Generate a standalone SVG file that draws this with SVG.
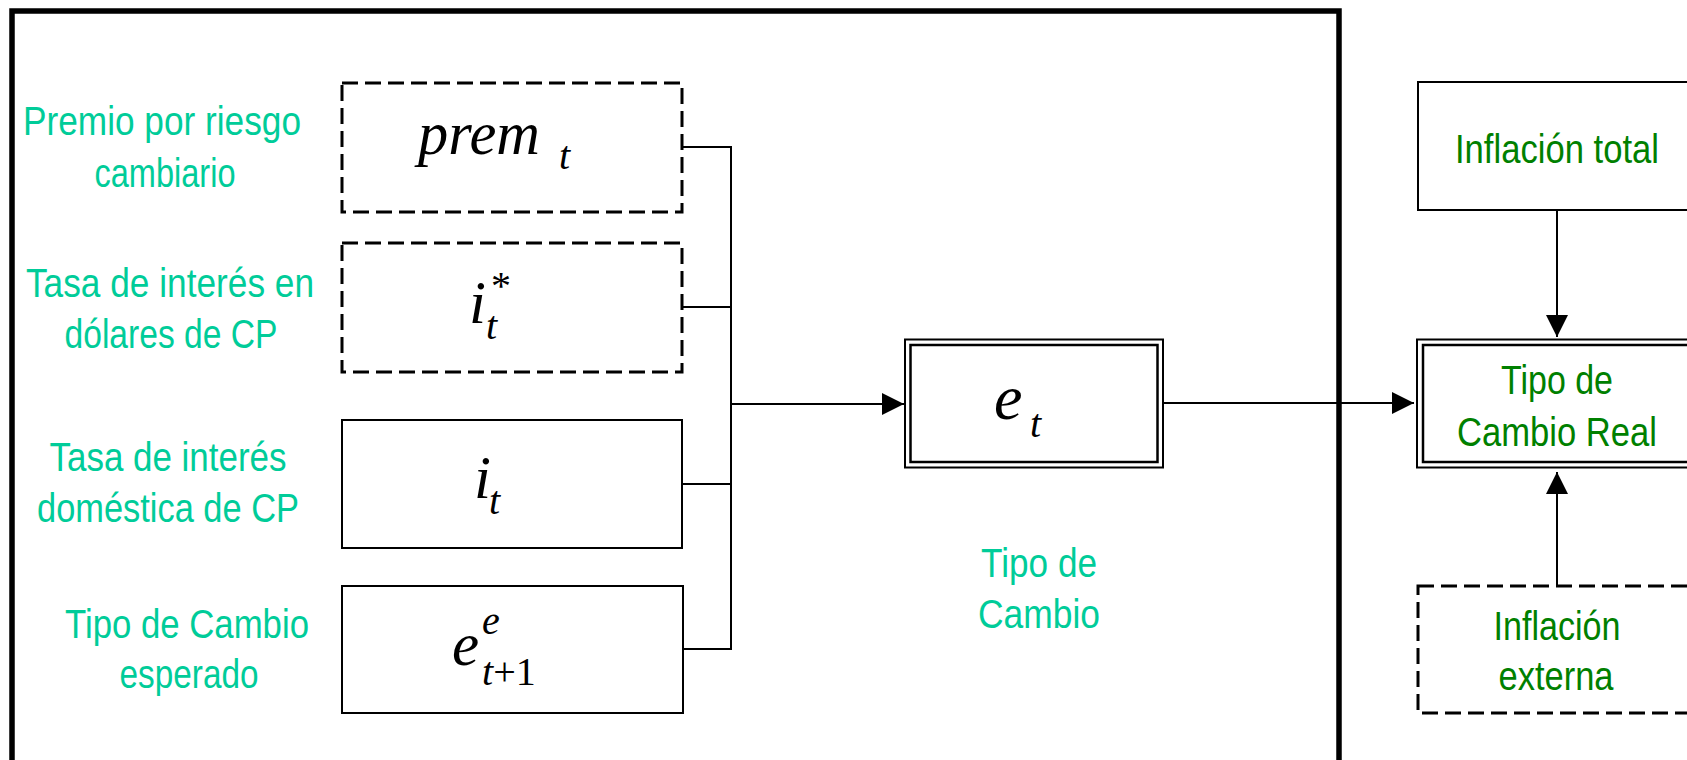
<svg xmlns="http://www.w3.org/2000/svg" width="1687" height="760" viewBox="0 0 1687 760">
<defs>
<style>
.lbl{font-family:"Liberation Sans",Arial,sans-serif;font-size:40px;fill:#00CC99;text-anchor:middle}
.glbl{font-family:"Liberation Sans",Arial,sans-serif;font-size:41px;fill:#008000;text-anchor:middle}
.math{font-family:"Liberation Serif","Times New Roman",serif;font-style:italic;fill:#000}
.big{font-size:61px}
.sub{font-size:40px}
.rom{font-style:normal}
.solid{fill:#fff;stroke:#000;stroke-width:2}
.dash{fill:#fff;stroke:#000;stroke-width:3;stroke-dasharray:16 7}
.ln{fill:none;stroke:#000;stroke-width:2}
</style>
<marker id="ah" markerUnits="userSpaceOnUse" markerWidth="22" markerHeight="22" viewBox="0 0 22 22" refX="22" refY="11" orient="auto">
<path d="M0,0 L22,11 L0,22 Z" fill="#000"/>
</marker>
</defs>
<rect width="1687" height="760" fill="#fff"/>
<g id="frame">
<rect x="12" y="11" width="1327" height="800" fill="none" stroke="#000" stroke-width="5.5"/>
</g>
<g id="connectors">
<path class="ln" d="M682,147 H731 M682,307 H731 M682,484 H731 M682,649 H731 M731,146 V650"/>
<line class="ln" x1="731" y1="404" x2="904" y2="404" marker-end="url(#ah)"/>
<line class="ln" x1="1164" y1="403" x2="1414" y2="403" marker-end="url(#ah)"/>
<line class="ln" x1="1557" y1="210" x2="1557" y2="337" marker-end="url(#ah)"/>
<line class="ln" x1="1557" y1="586" x2="1557" y2="472" marker-end="url(#ah)"/>
</g>
<g id="lbl-prem">
<text class="lbl" x="162" y="135" textLength="278" lengthAdjust="spacingAndGlyphs">Premio por riesgo</text>
<text class="lbl" x="165" y="187" textLength="141" lengthAdjust="spacingAndGlyphs">cambiario</text>
</g>
<g id="lbl-istar">
<text class="lbl" x="170" y="297" textLength="288" lengthAdjust="spacingAndGlyphs">Tasa de interés en</text>
<text class="lbl" x="171" y="348" textLength="213" lengthAdjust="spacingAndGlyphs">dólares de CP</text>
</g>
<g id="lbl-i">
<text class="lbl" x="168" y="471" textLength="237" lengthAdjust="spacingAndGlyphs">Tasa de interés</text>
<text class="lbl" x="168" y="522" textLength="262" lengthAdjust="spacingAndGlyphs">doméstica de CP</text>
</g>
<g id="lbl-ee">
<text class="lbl" x="187" y="638" textLength="244" lengthAdjust="spacingAndGlyphs">Tipo de Cambio</text>
<text class="lbl" x="189" y="688" textLength="139" lengthAdjust="spacingAndGlyphs">esperado</text>
</g>
<g id="node-prem">
<rect class="dash" x="342" y="83" width="340" height="129"/>
<text class="math big" x="418" y="154" textLength="122" lengthAdjust="spacingAndGlyphs">prem</text>
<text class="math sub" x="559" y="169">t</text>
</g>
<g id="node-istar">
<rect class="dash" x="342" y="243" width="340" height="129"/>
<text class="math big" x="469" y="323">i</text>
<text class="math sub rom" x="491" y="299">*</text>
<text class="math sub" x="486" y="339">t</text>
</g>
<g id="node-i">
<rect class="solid" x="342" y="420" width="340" height="128"/>
<text class="math big" x="474" y="498">i</text>
<text class="math sub" x="489" y="514">t</text>
</g>
<g id="node-ee">
<rect class="solid" x="342" y="586" width="341" height="127"/>
<text class="math big" x="452" y="665">e</text>
<text class="math sub" x="482" y="634">e</text>
<text class="math sub" x="482" y="685">t<tspan class="rom">+1</tspan></text>
</g>
<g id="node-et">
<rect class="solid" x="905" y="339.5" width="258" height="128"/>
<rect fill="none" stroke="#000" stroke-width="2.5" x="910.5" y="345" width="247" height="117"/>
<text class="math" font-size="64" x="994" y="419">e</text>
<text class="math sub" x="1030" y="437">t</text>
</g>
<g id="lbl-tc">
<text class="lbl" x="1039" y="577" textLength="116" lengthAdjust="spacingAndGlyphs">Tipo de</text>
<text class="lbl" x="1039" y="628" textLength="122" lengthAdjust="spacingAndGlyphs">Cambio</text>
</g>
<g id="node-inftot">
<rect class="solid" x="1418" y="82" width="280" height="128"/>
<text class="glbl" x="1557" y="163" textLength="204" lengthAdjust="spacingAndGlyphs">Inflación total</text>
</g>
<g id="node-tcr">
<rect class="solid" x="1417" y="339.5" width="281" height="128"/>
<rect fill="none" stroke="#000" stroke-width="2.5" x="1423" y="345" width="275" height="117"/>
<text class="glbl" x="1557" y="394" textLength="112" lengthAdjust="spacingAndGlyphs">Tipo de</text>
<text class="glbl" x="1557" y="446" textLength="200" lengthAdjust="spacingAndGlyphs">Cambio Real</text>
</g>
<g id="node-infext">
<rect class="dash" x="1418" y="586" width="280" height="127"/>
<text class="glbl" x="1557" y="640" textLength="127" lengthAdjust="spacingAndGlyphs">Inflación</text>
<text class="glbl" x="1556" y="690" textLength="115" lengthAdjust="spacingAndGlyphs">externa</text>
</g>
</svg>
